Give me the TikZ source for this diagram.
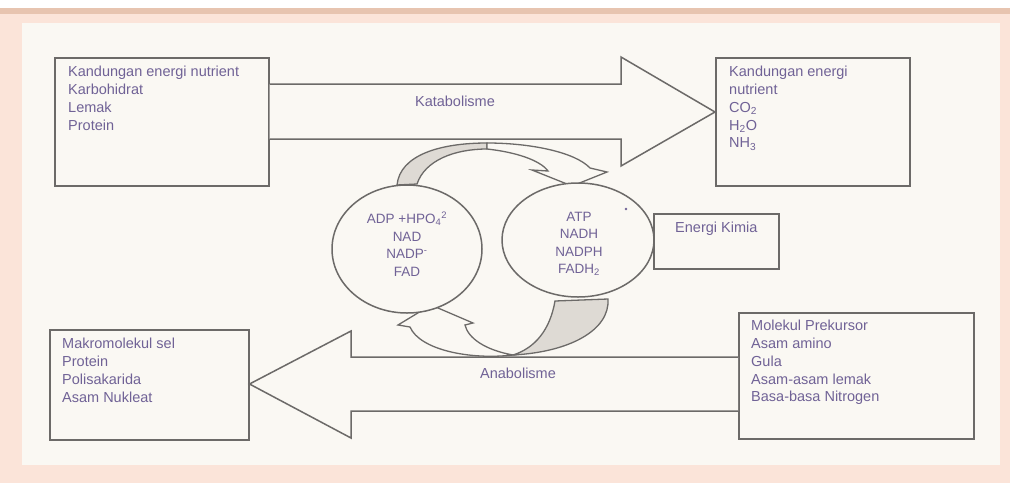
\documentclass[tikz,border=0pt]{standalone}
\usepackage{fontspec}
\setmainfont{Liberation Sans}
\usetikzlibrary{calc,shapes.geometric}
\definecolor{txt}{RGB}{112,98,150}
\definecolor{ln}{RGB}{108,106,104}
\definecolor{panel}{RGB}{250,248,243}
\definecolor{rim}{RGB}{251,228,217}
\definecolor{band}{RGB}{231,196,176}
\definecolor{fold}{RGB}{222,218,212}
\begin{document}
\begin{tikzpicture}[x=1pt,y=-1pt,line join=miter,
  boxframe/.style={draw=ln,line width=1.5pt,fill=panel,inner sep=0pt,anchor=north west},
  lbl/.style={text=txt,font=\fontsize{14.5}{17.8}\selectfont,align=left,anchor=north west,inner sep=0pt},
  clbl/.style={text=txt,font=\fontsize{13.5}{17.5}\selectfont,align=center,inner sep=0pt},
  blockarrow/.style={draw=ln,line width=1.5pt,fill=panel},
  ribbon/.style={draw=ln,line width=1.3pt,fill=panel},
  ribbonback/.style={draw=ln,line width=1.3pt,fill=fold},
  pool/.style={draw=ln,line width=1.5pt,fill=panel,ellipse,inner sep=0pt}]

% canvas
\useasboundingbox (0,0) rectangle (1010,483);
\fill[white] (0,0) rectangle (1010,483);
\fill[rim] (0,13) rectangle (1010,483);
\fill[band] (0,8) rectangle (1010,14);
\fill[panel] (22,23) rectangle (1000,465);

% boxes
\node[boxframe,minimum width=214pt,minimum height=128pt] (tl) at (54,57) {};
\node[boxframe,minimum width=194pt,minimum height=128pt] (tr) at (715,57) {};
\node[boxframe,minimum width=125pt,minimum height=55pt] (en) at (653,213) {};
\node[boxframe,minimum width=199pt,minimum height=110pt] (bl) at (49,329) {};
\node[boxframe,minimum width=235pt,minimum height=126pt] (br) at (738,312) {};

% catabolism block arrow
\draw[blockarrow] ($(tl.north east)+(0,27)$) -- (621,84) -- (621,57)
  -- ($(tr.north west)+(0,55)$) -- (621,166) -- (621,139) -- ($(tl.north east)+(0,82)$);
% anabolism block arrow
\draw[blockarrow] ($(br.north west)+(0,45)$) -- (351,357) -- (351,331)
  -- ($(bl.north east)+(0,55)$) -- (351,438) -- (351,411) -- ($(br.north west)+(0,99)$);

% upper ribbon arrow: folded back part, then front with head
\draw[ribbonback] (397,185) .. controls (400,155) and (440,143) .. (487,143)
  -- (487,149) .. controls (455,149) and (425,160) .. (417,184) -- cycle;
\draw[ribbon] (487,143) .. controls (530,143) and (575,152) .. (590,168)
  -- (607,172) -- (572,186) -- (532,170) -- (548,171)
  .. controls (540,160) and (515,152) .. (487,149) -- cycle;

% lower ribbon arrow
\draw[ribbonback] (608,299) .. controls (610,330) and (570,352) .. (513,355)
  .. controls (535,348) and (550,330) .. (555,301) -- cycle;
\draw[ribbon] (513,355) .. controls (470,360) and (420,350) .. (410,327)
  -- (398,325) -- (431,305) -- (473,323) -- (465,325)
  .. controls (468,338) and (485,350) .. (513,355) -- cycle;

% pools
\node[pool,minimum width=150pt,minimum height=128pt] (lo) at (407,249) {};
\node[pool,minimum width=152pt,minimum height=114pt] (hi) at (578,240) {};

% labels
\node[lbl] (tlt) at (68,66) {Kandungan energi nutrient\\Karbohidrat\\Lemak\\Protein};
\node[lbl] (trt) at (729,66) {Kandungan energi\\nutrient\\CO\textsubscript{2}\\H\textsubscript{2}O\\NH\textsubscript{3}};
\node[lbl] (ent) at (675,222) {Energi Kimia};
\node[lbl] (blt) at (62,338) {Makromolekul sel\\Protein\\Polisakarida\\Asam Nukleat};
\node[lbl] (brt) at (751,320) {Molekul Prekursor\\Asam amino\\Gula\\Asam-asam lemak\\Basa-basa Nitrogen};
\node[lbl,anchor=center] (kat) at (455,101) {Katabolisme};
\node[lbl,anchor=center] (ana) at (518,373) {Anabolisme};
\node[clbl] (lot) at (407,244) {ADP +HPO\textsubscript{4}\textsuperscript{2}\\NAD\\NADP\textsuperscript{-}\\FAD};
\node[clbl] (hit) at (579,244) {ATP\\NADH\\NADPH\\FADH\textsubscript{2}};
\fill[txt] (626,209) circle (1.3);
\end{tikzpicture}
\end{document}
